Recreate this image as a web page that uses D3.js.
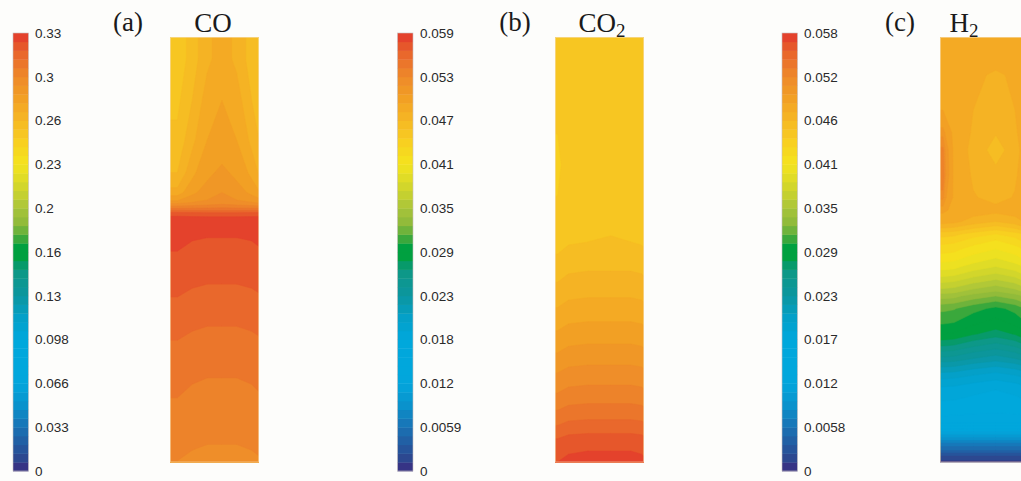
<!DOCTYPE html>
<html>
<head>
<meta charset="utf-8">
<script src="https://cdn.jsdelivr.net/npm/d3@7"></script>
<style>
  html, body { margin: 0; padding: 0; background: #fdfdfb; }
  svg { display: block; }
  .tick-label { font-family: "Liberation Sans", Arial, sans-serif; font-size: 13.5px; fill: #2a2a2a; }
  .title { font-family: "Liberation Serif", "DejaVu Serif", serif; font-size: 27px; fill: #1a1a1a; }
</style>
</head>
<body>
<svg id="chart" width="1021" height="481"></svg>
<script>
// ---- colour bar ticks ----
const coTickLabels  = ['0', '0.033', '0.066', '0.098', '0.13', '0.16', '0.2', '0.23', '0.26', '0.3', '0.33'];
const coTickValues  = [0, 0.0328, 0.0656, 0.0984, 0.1312, 0.164, 0.1968, 0.2296, 0.2624, 0.2952, 0.328];
const co2TickLabels = ['0', '0.0059', '0.012', '0.018', '0.023', '0.029', '0.035', '0.041', '0.047', '0.053', '0.059'];
const co2TickValues = [0, 0.00586, 0.01172, 0.01758, 0.02344, 0.0293, 0.03516, 0.04102, 0.04688, 0.05274, 0.0586];
const h2TickLabels  = ['0', '0.0058', '0.012', '0.017', '0.023', '0.029', '0.035', '0.041', '0.046', '0.052', '0.058'];
const h2TickValues  = [0, 0.0058, 0.0116, 0.0174, 0.0232, 0.029, 0.0348, 0.0406, 0.0464, 0.0522, 0.058];

// ---- fields: rows top -> bottom, 7 sample columns across the channel ----
// sample positions: column offsets from the left wall and row y, in px
const coColsX = [0, 14.8, 29.7, 44.5, 59.3, 74.2, 89];
const coRowsY = [37, 80, 120, 160, 185, 200, 207, 213, 226, 250, 273, 295, 315, 338, 360, 395, 427, 462];
const coField = [
  [.2509, .2591, .2673, .2722, .2673, .2591, .2509],
  [.2542, .2624, .2722, .2755, .2722, .2624, .2542],
  [.2575, .2673, .2755, .2788, .2755, .2673, .2575],
  [.2624, .2739, .2804, .2837, .2804, .2739, .2624],
  [.2722, .2804, .2854, .2886, .2854, .2804, .2722],
  [.2886, .2903, .2919, .2936, .2919, .2903, .2886],
  [.3067, .3067, .3067, .3067, .3067, .3067, .3067],
  [.3264, .3257, .3254, .3254, .3254, .3257, .3264],
  [.3231, .3218, .3214, .3214, .3214, .3218, .3231],
  [.3201, .3188, .3182, .3182, .3182, .3188, .3201],
  [.3168, .3155, .3149, .3149, .3149, .3155, .3168],
  [.3136, .3123, .3116, .3116, .3116, .3123, .3136],
  [.3103, .3090, .3083, .3083, .3083, .3090, .3103],
  [.3070, .3057, .3050, .3050, .3050, .3057, .3070],
  [.3037, .3024, .3018, .3018, .3018, .3024, .3037],
  [.3004, .2991, .2985, .2985, .2985, .2991, .3004],
  [.2972, .2959, .2952, .2952, .2952, .2959, .2972],
  [.2929, .2916, .2909, .2906, .2909, .2916, .2929]
];

const co2ColsX = [0, 5, 22, 44.5, 67, 84, 89];
const co2RowsY = [37, 130, 200, 215, 227, 257, 285, 310, 333, 355, 375, 395, 412, 427, 440, 462];
const co2Field = [
  [.04512, .04512, .04512, .04512, .04512, .04512, .04512],
  [.04407, .04489, .04512, .04512, .04512, .04500, .04465],
  [.04512, .04512, .04512, .04512, .04512, .04512, .04512],
  [.04500, .04536, .04547, .04547, .04547, .04536, .04500],
  [.04524, .04559, .04571, .04577, .04571, .04559, .04524],
  [.04641, .04676, .04688, .04688, .04688, .04676, .04641],
  [.04758, .04793, .04805, .04805, .04805, .04793, .04758],
  [.04876, .04911, .04922, .04922, .04922, .04911, .04876],
  [.04993, .05028, .05040, .05040, .05040, .05028, .04993],
  [.05110, .05145, .05157, .05157, .05157, .05145, .05110],
  [.05227, .05262, .05274, .05274, .05274, .05262, .05227],
  [.05344, .05379, .05391, .05391, .05391, .05379, .05344],
  [.05462, .05497, .05508, .05508, .05508, .05497, .05462],
  [.05579, .05614, .05626, .05626, .05626, .05614, .05579],
  [.05696, .05731, .05743, .05743, .05743, .05731, .05696],
  [.05790, .05813, .05825, .05825, .05825, .05813, .05790]
];

const h2ColsX = [0, 6, 22, 44.5, 67, 83, 89];
const h2RowsY = [37, 55, 95, 125, 140, 160, 190, 205, 215, 228, 240, 258, 275, 290, 302, 315, 328, 340, 352, 365, 380, 400, 415, 427, 435, 442, 450, 455, 462];
const h2Field = [
  [.04843, .04843, .04843, .04843, .04843, .04843, .04843],
  [.04843, .04826, .04773, .04744, .04773, .04826, .04843],
  [.04872, .04826, .04756, .04698, .04756, .04826, .04843],
  [.05046, .04843, .04744, .04652, .04744, .04826, .04843],
  [.05249, .04843, .04727, .04582, .04727, .04826, .04849],
  [.05307, .04843, .04744, .04669, .04744, .04826, .04849],
  [.05133, .04849, .04768, .04710, .04768, .04837, .04860],
  [.04901, .04855, .04831, .04814, .04831, .04855, .04872],
  [.04814, .04797, .04710, .04640, .04710, .04797, .04814],
  [.04466, .04449, .04362, .04292, .04362, .04449, .04466],
  [.04234, .04217, .04130, .04060, .04130, .04217, .04234],
  [.04002, .03985, .03898, .03828, .03898, .03985, .04002],
  [.03712, .03695, .03608, .03538, .03608, .03695, .03712],
  [.03422, .03405, .03318, .03248, .03318, .03405, .03422],
  [.03161, .03144, .03057, .02987, .03057, .03144, .03161],
  [.03045, .03028, .02941, .02871, .02941, .03028, .03045],
  [.02900, .02883, .02796, .02726, .02796, .02883, .02900],
  [.02668, .02651, .02564, .02494, .02564, .02651, .02668],
  [.02407, .02390, .02320, .02262, .02320, .02390, .02407],
  [.02088, .02076, .02018, .01972, .02018, .02076, .02088],
  [.01810, .01804, .01769, .01740, .01769, .01804, .01810],
  [.01682, .01682, .01665, .01653, .01665, .01682, .01682],
  [.01578, .01572, .01566, .01566, .01566, .01572, .01578],
  [.01160, .01160, .01160, .01160, .01160, .01160, .01160],
  [.00870, .00870, .00870, .00870, .00870, .00870, .00870],
  [.00580, .00580, .00580, .00580, .00580, .00580, .00580],
  [.00348, .00348, .00348, .00348, .00348, .00348, .00348],
  [.00145, .00145, .00145, .00145, .00145, .00145, .00145],
  [.00029, .00029, .00029, .00029, .00029, .00029, .00029]
];

// rainbow colour map (fraction of bar maximum -> colour)
const cmapStops  = [0, 0.03, 0.06, 0.1, 0.15, 0.2, 0.3, 0.35, 0.4, 0.45, 0.47, 0.49, 0.51, 0.53, 0.56, 0.6, 0.63, 0.67, 0.7, 0.75, 0.8, 0.85, 0.9, 0.95, 0.975, 1];
const cmapColors = ['#3b2a80', '#2c4890', '#235aa0', '#1a72b4', '#0a92cc', '#02a6dc', '#00a8dc', '#04a0c8', '#0c96a0', '#0d9888', '#079a6a', '#00a040', '#00a040', '#3aa83c', '#8ab83a', '#a8c43a', '#c4d030', '#e0dc26', '#f4e41e', '#f8d020', '#f6b824', '#f2a024', '#ee8a2a', '#e9682c', '#e5532b', '#e3362c'];
const nBands = 50;

const cmap = d3.scaleLinear().domain(cmapStops).range(cmapColors).clamp(true);
const svg = d3.select('#chart');
svg.append('rect').attr('width', 1021).attr('height', 481).attr('fill', '#fdfdfb');

const panels = [
  { id: 'co',  letter: '(a)', name: 'CO', sub: null, max: 0.328,  ticks: coTickValues,  labels: coTickLabels,
    cols: coColsX, rows: coRowsY, field: coField, barX: 13, labelX: 35, fieldX: 170, letterX: 128, nameX: 213 },
  { id: 'co2', letter: '(b)', name: 'CO', sub: '2', max: 0.0586, ticks: co2TickValues, labels: co2TickLabels,
    cols: co2ColsX, rows: co2RowsY, field: co2Field, barX: 397.5, labelX: 420, fieldX: 555, letterX: 515, nameX: 602 },
  { id: 'h2',  letter: '(c)', name: 'H', sub: '2', max: 0.058,  ticks: h2TickValues,  labels: h2TickLabels,
    cols: h2ColsX, rows: h2RowsY, field: h2Field, barX: 782, labelX: 804, fieldX: 940, letterX: 900, nameX: 964 }
];

const barTop = 33, barBottom = 471, barW = 15.5;
const fieldTop = 37, fieldBottom = 462.5, fieldW = 89;

// repeat the outer rows/columns once so the contour corners fall outside the clip
function padGrid(field) {
  const rows = field.map(function(r) { return [r[0]].concat(r, [r[r.length - 1]]); });
  return [rows[0]].concat(rows, [rows[rows.length - 1]]);
}

panels.forEach(function(p) {
  const step = p.max / nBands;
  const thresholds = d3.range(nBands).map(function(i) { return i * step; });
  const bandColor = function(t) { return cmap((t + step / 2) / p.max); };

  // colour bar
  const y = d3.scaleLinear().domain([0, p.max]).range([barBottom, barTop]);
  const bar = svg.append('g').attr('class', 'colorbar');
  bar.selectAll('rect')
    .data(thresholds)
    .enter().append('rect')
      .attr('x', p.barX)
      .attr('y', function(d) { return y(d + step); })
      .attr('width', barW)
      .attr('height', function(d) { return y(d) - y(d + step) + 0.4; })
      .attr('fill', bandColor);
  bar.append('rect')
    .attr('x', p.barX).attr('y', barTop)
    .attr('width', barW).attr('height', barBottom - barTop)
    .attr('fill', 'none').attr('stroke', '#c8c0c0').attr('stroke-width', 0.6);

  bar.selectAll('text')
    .data(p.ticks)
    .enter().append('text')
      .attr('class', 'tick-label')
      .attr('x', p.labelX)
      .attr('y', y)
      .attr('dy', '0.36em')
      .text(function(d, i) { return p.labels[i]; });

  // contour field
  const grid = padGrid(p.field);
  const nx = grid[0].length, ny = grid.length;
  const values = [].concat.apply([], grid);
  const colPx = [p.fieldX - 12].concat(p.cols.map(function(c) { return p.fieldX + c; }), [p.fieldX + fieldW + 12]);
  const rowPx = [p.rows[0] - 12].concat(p.rows, [p.rows[p.rows.length - 1] + 12]);
  const xs = d3.scaleLinear().domain(d3.range(nx)).range(colPx);
  const ys = d3.scaleLinear().domain(d3.range(ny)).range(rowPx);
  const contours = d3.contours().size([nx, ny]).thresholds(thresholds)(values);
  const path = d3.geoPath(d3.geoTransform({
    point: function(px, py) { this.stream.point(xs(px), ys(py)); }
  }));

  svg.append('clipPath').attr('id', 'clip-' + p.id)
    .append('rect')
      .attr('x', p.fieldX).attr('y', fieldTop)
      .attr('width', fieldW).attr('height', fieldBottom - fieldTop);

  const g = svg.append('g').attr('clip-path', 'url(#clip-' + p.id + ')');
  g.selectAll('path')
    .data(contours)
    .enter().append('path')
      .attr('d', path)
      .attr('fill', function(d) { return bandColor(d.value); })
      .attr('stroke', function(d) { return bandColor(d.value); })
      .attr('stroke-width', 0.5);
  svg.append('rect')
    .attr('x', p.fieldX + 0.5).attr('y', fieldTop + 0.5)
    .attr('width', fieldW - 1).attr('height', fieldBottom - fieldTop - 1)
    .attr('fill', 'none').attr('stroke', '#f6deb0').attr('stroke-width', 1).attr('stroke-opacity', 0.6);

  // titles
  svg.append('text').attr('class', 'title')
    .attr('x', p.letterX).attr('y', 31).attr('text-anchor', 'middle')
    .text(p.letter);
  const name = svg.append('text').attr('class', 'title')
    .attr('x', p.nameX).attr('y', 32).attr('text-anchor', 'middle');
  name.append('tspan').text(p.name);
  if (p.sub) {
    name.append('tspan').attr('font-size', '19px').attr('dy', 5).text(p.sub);
  }
});
</script>
</body>
</html>
